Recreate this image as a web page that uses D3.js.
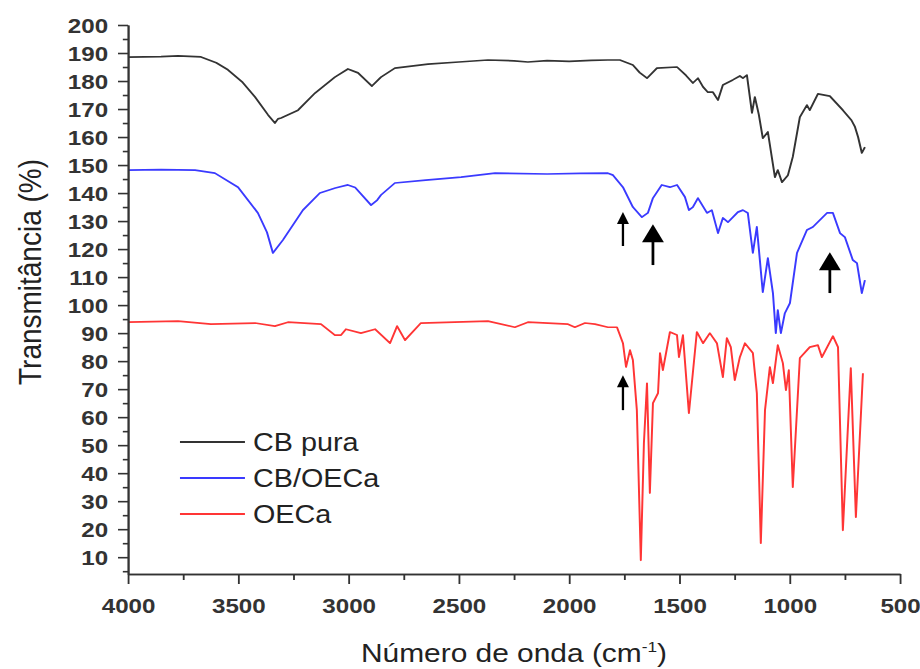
<!DOCTYPE html>
<html>
<head>
<meta charset="utf-8">
<script src="https://cdn.jsdelivr.net/npm/d3@7"></script>
<style>
  body { margin: 0; background: #fff; }
  text { font-family: "Liberation Sans", Arial, sans-serif; }
</style>
</head>
<body>
<div class="chart"></div>
<script>
// FTIR spectra: [wavenumber (cm-1), transmittance (%)]
let cbPura = [[4000,188.5],[3850,188.7],[3773,189],[3669,188.6],[3600,186.5],[3547,184],[3480,179.5],[3424,174.3],
  [3365,167.9],[3334,165],[3320,166.5],[3306,166.8],[3229,169.6],[3152,175.7],[3062,181.4],[3003,184.3],[2957,182.9],
  [2894,178.2],[2853,181.4],[2790,184.6],[2640,186],[2500,186.8],[2368,187.5],[2250,187.2],[2187,186.8],[2100,187.3],
  [2000,187],[1900,187.4],[1824,187.5],[1770,187.5],[1711,185.7],[1680,183],[1647,181],[1602,184.6],[1511,185],
  [1470,182],[1439,179.3],[1416,181],[1393,177.9],[1371,176],[1348,176],[1325,173.2],[1303,178.6],[1258,180.4],
  [1226,181.8],[1212,181],[1194,182.1],[1171,168.6],[1158,174.3],[1140,168],[1122,159.6],[1099,161.8],[1067,145.7],
  [1054,148.2],[1035,143.9],[1008,146.4],[986,152.9],[954,167.1],[922,171.4],[909,169.6],[872,175.4],[818,174.6],
  [759,169.6],[720,166],[704,163.6],[690,160],[673,154.3],[659,156.4]];

let cbOeca = [[4000,148.2],[3850,148.4],[3696,148.2],[3606,147.1],[3501,142.1],[3411,132.9],[3370,126],[3343,118.6],
  [3298,123.2],[3207,133.9],[3130,140],[3060,141.8],[3003,142.9],[2970,142],[2898,135.7],[2870,137.5],[2853,139.3],
  [2790,143.6],[2650,144.6],[2490,145.7],[2336,147.1],[2100,146.8],[1950,147],[1824,147.1],[1801,146.4],[1756,142.1],
  [1711,135],[1670,131.4],[1643,132.9],[1620,138.2],[1580,142.9],[1543,142.1],[1511,142.9],[1475,138.6],[1457,133.9],
  [1439,135],[1416,138.2],[1375,132.9],[1353,133.9],[1325,125.7],[1303,131.1],[1280,129.6],[1235,133.2],[1212,133.9],
  [1190,132.9],[1167,118.6],[1149,127.9],[1122,104.6],[1099,116.8],[1076,104.3],[1063,90],[1054,98.2],[1040,90],
  [1022,97.1],[999,100.7],[967,118.6],[922,126.8],[895,127.9],[831,132.9],[804,132.9],[772,125.7],[750,124.3],
  [714,116.1],[695,115],[673,104.3],[659,108.9]];

let oeca = [[4000,93.9],[3773,94.3],[3624,93.2],[3424,93.6],[3334,92.5],[3275,93.9],[3125,93.2],[3062,89.3],[3034,89.3],
  [3012,91.4],[2944,90],[2880,91.4],[2812,86.4],[2780,92.5],[2744,87.5],[2672,93.6],[2368,94.3],[2246,92.1],[2187,93.9],
  [2005,93.2],[1974,92.1],[1928,93.6],[1883,93.2],[1824,92.1],[1783,92.1],[1756,86.4],[1742,77.9],[1724,83.9],
  [1711,80.4],[1693,62.5],[1675,8.9],[1661,50.7],[1647,72.1],[1634,32.9],[1620,65],[1597,68.6],[1588,82.9],[1575,76.8],
  [1543,90.4],[1511,89.3],[1502,81.4],[1484,89.3],[1457,61.4],[1421,90.4],[1393,86.4],[1362,90],[1330,86.4],[1303,74.3],
  [1285,88.2],[1267,85],[1249,73.2],[1226,81.4],[1203,86.4],[1167,82.9],[1149,68.6],[1131,15],[1112,62.5],[1090,77.9],
  [1076,72.1],[1054,85.7],[1031,79.3],[1017,69.6],[1004,76.8],[986,35],[954,81.1],[909,85],[872,85.7],[854,81.4],
  [804,88.9],[781,85],[759,19.6],[723,77.5],[700,24.3],[668,75.7]];

let seriesNames = ['CB pura', 'CB/OECa', 'OECa'];
let xTicks = [4000, 3500, 3000, 2500, 2000, 1500, 1000, 500];
let xMinor = [3750, 3250, 2750, 2250, 1750, 1250, 750];
let yTicks = d3.range(10, 201, 10);
let yMinor = d3.range(5, 200, 10);
// arrows: [wavenumber, tip %, tail %]
let smallArrows = [[1756, 133.2, 121.1], [1756, 75, 62.5]];
let largeArrows = [[1620, 128.9, 114.3], [818, 118.9, 104.3]];

let colors = ['#333333', '#3a3aff', '#ff3535'];
let series = [cbPura, cbOeca, oeca];

// the picture is stretched sideways, so draw in a narrower box and let the viewBox widen it
let width = 800;
let height = 669;

let svg = d3.select('.chart')
  .append('svg')
  .attr('width', 920)
  .attr('height', height)
  .attr('viewBox', '0 0 ' + width + ' ' + height)
  .attr('preserveAspectRatio', 'none');

let xScale = d3.scaleLinear()
  .domain([4000, 500])
  .range([111.3, 782.6]);
let yScale = d3.scaleLinear()
  .domain([4, 200])
  .range([574, 25]);

let line = d3.line()
  .x(d => xScale(d[0]))
  .y(d => yScale(d[1]));

series.forEach((s, i) => {
  svg.append('path')
    .datum(s)
    .attr('fill', 'none')
    .attr('stroke', colors[i])
    .attr('stroke-width', 1.7)
    .attr('stroke-linejoin', 'round')
    .attr('d', line);
});

// axes
let yAxis = svg.append('g')
  .attr('transform', 'translate(' + xScale(4000) + ',0)')
  .call(d3.axisLeft(yScale).tickValues(yTicks).tickSize(8.7).tickPadding(8.6).tickSizeOuter(0));
svg.append('g')
  .attr('transform', 'translate(' + xScale(4000) + ',0)')
  .call(d3.axisLeft(yScale).tickValues(yMinor).tickSize(4.5).tickFormat('').tickSizeOuter(0));

let xAxis = svg.append('g')
  .attr('transform', 'translate(0,' + yScale(4) + ')')
  .call(d3.axisBottom(xScale).tickValues(xTicks).tickFormat(d3.format('d')).tickSize(10).tickSizeOuter(0));
svg.append('g')
  .attr('transform', 'translate(0,' + yScale(4) + ')')
  .call(d3.axisBottom(xScale).tickValues(xMinor).tickSize(6).tickFormat('').tickSizeOuter(0));

svg.selectAll('.domain, .tick line')
  .attr('stroke', '#333')
  .attr('stroke-width', 1.6);
svg.selectAll('.tick text')
  .style('font-size', '21px')
  .style('font-weight', 'bold')
  .attr('fill', '#333');
xAxis.selectAll('.tick text').attr('y', 0).attr('dy', 39);
yAxis.selectAll('.tick text').attr('dy', '0.36em');

// axis titles
svg.append('text')
  .attr('transform', 'translate(35.5,' + 272 + ') rotate(-90)')
  .attr('text-anchor', 'middle')
  .style('font-size', '28px')
  .attr('fill', '#222')
  .text('Transmitância (%)');

let xTitle = svg.append('text')
  .attr('x', (xScale(4000) + xScale(500)) / 2)
  .attr('y', 662)
  .attr('text-anchor', 'middle')
  .style('font-size', '26px')
  .attr('fill', '#222');
xTitle.append('tspan').text('Número de onda (cm');
xTitle.append('tspan').attr('dy', -10).style('font-size', '15px').text('-1');
xTitle.append('tspan').attr('dy', 10).text(')');

// arrows
function drawArrow(a, half, headH, shaftW) {
  let x = xScale(a[0]);
  let tip = yScale(a[1]);
  let tail = yScale(a[2]);
  svg.append('line')
    .attr('x1', x).attr('x2', x)
    .attr('y1', tail).attr('y2', tip + headH - 1)
    .attr('stroke', '#000')
    .attr('stroke-width', shaftW);
  svg.append('path')
    .attr('d', 'M' + x + ',' + tip + 'L' + (x + half) + ',' + (tip + headH) + 'L' + (x - half) + ',' + (tip + headH) + 'Z')
    .attr('fill', '#000');
}
smallArrows.forEach(a => drawArrow(a, 5.2, 12, 2));
largeArrows.forEach(a => drawArrow(a, 9.5, 18, 2.4));

// legend
let legend = svg.append('g');
seriesNames.forEach((name, i) => {
  let y = 442 + i * 36;
  legend.append('line')
    .attr('x1', 156.5).attr('x2', 213)
    .attr('y1', y).attr('y2', y)
    .attr('stroke', colors[i])
    .attr('stroke-width', 1.8);
  legend.append('text')
    .attr('x', 220)
    .attr('y', y + 9)
    .style('font-size', '25px')
    .attr('fill', '#222')
    .text(name);
});
</script>
</body>
</html>
